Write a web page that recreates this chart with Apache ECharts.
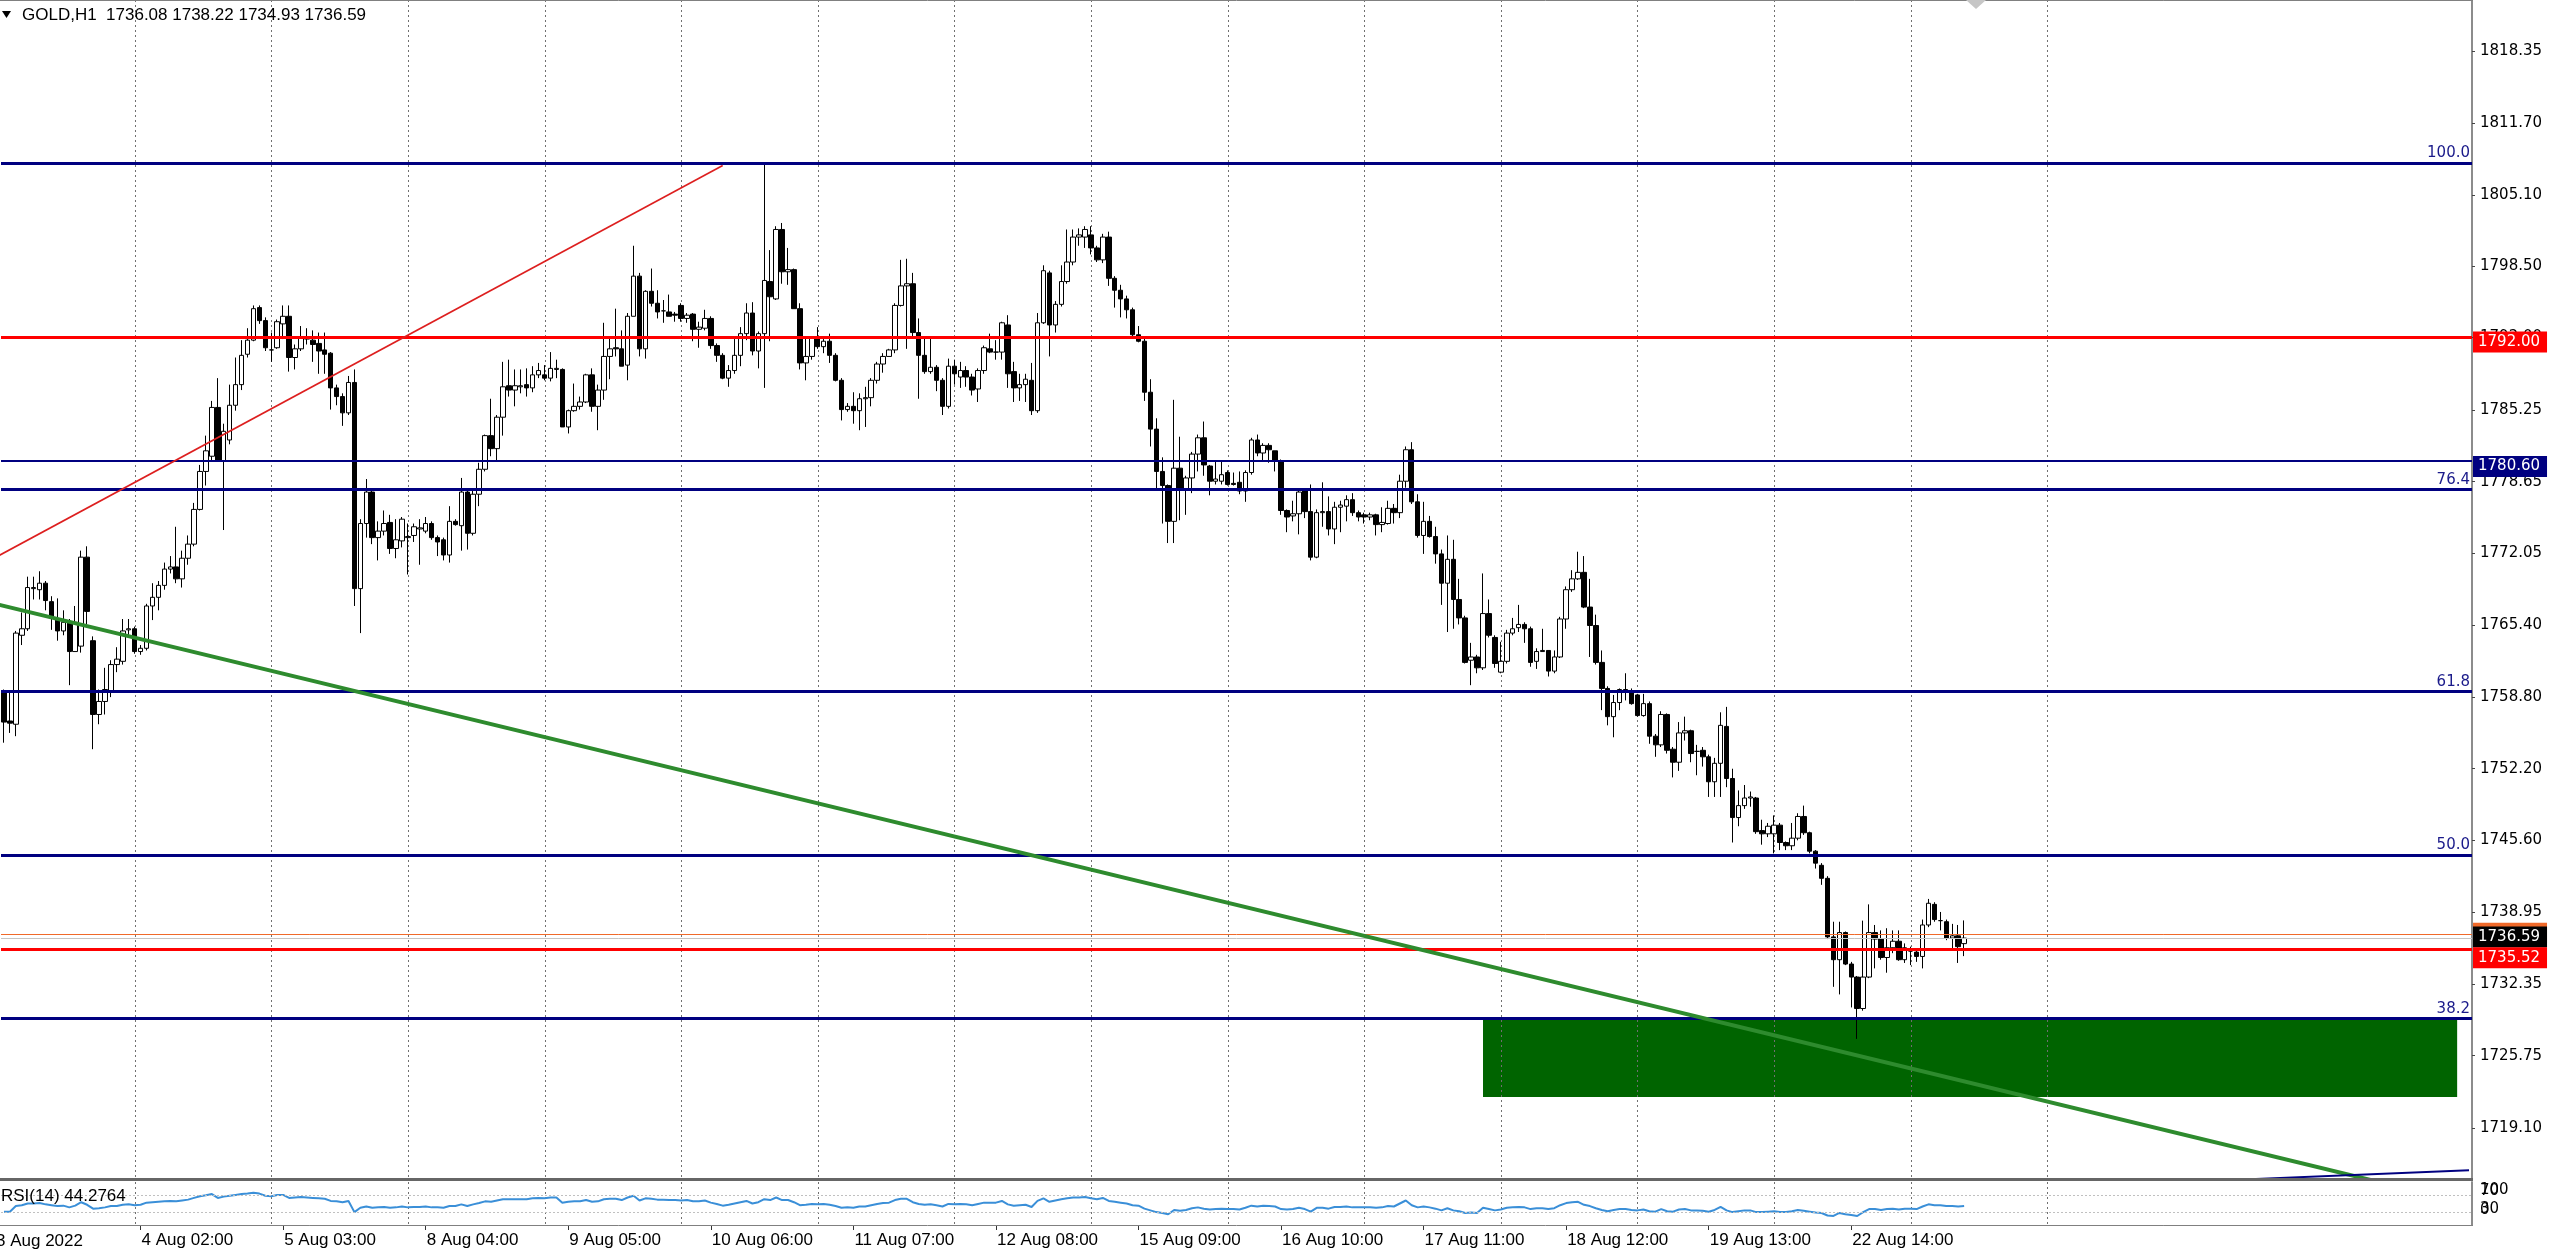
<!DOCTYPE html>
<html>
<head>
<meta charset="utf-8">
<script src="https://cdn.jsdelivr.net/npm/echarts@6.0.0/dist/echarts.min.js"></script>
<style>
html,body{margin:0;padding:0;background:#fff;overflow:hidden;}
#c{width:2560px;height:1255px;}
</style>
</head>
<body>
<div id="c"></div>
<script>
// ---------------- DATA (GOLD, H1) ----------------
const opens = [
1759.3,1756.6,1756.3,1764.5,1765.1,1768.8,1768.7,1769.3,1767.6,1766.0,
1764.9,1765.7,1763.0,1763.5,1771.7,1764.0,1757.2,1758.4,1759.3,1761.8,
1762.1,1765.0,1765.1,1763.0,1763.3,1767.2,1768.0,1769.1,1770.6,1770.8,
1769.7,1771.6,1772.9,1776.1,1779.6,1781.0,1785.5,1780.6,1782.5,1785.7,
1787.6,1790.4,1791.7,1794.7,1793.5,1790.8,1791.0,1793.2,1793.9,1790.1,
1790.9,1791.8,1791.7,1791.4,1790.8,1790.5,1787.3,1786.5,1785.0,1787.8,
1768.8,1774.8,1777.7,1773.5,1774.1,1774.9,1772.5,1773.2,1773.5,1773.7,
1774.3,1774.1,1774.8,1773.5,1773.3,1771.9,1775.0,1774.6,1777.7,1773.9,
1777.5,1779.8,1782.9,1781.7,1784.6,1787.5,1787.1,1787.4,1787.6,1787.3,
1788.5,1788.5,1788.2,1789.0,1789.0,1783.7,1785.2,1785.6,1786.0,1788.5,
1785.6,1787.1,1790.2,1791.0,1790.9,1789.4,1793.9,1797.6,1790.9,1796.2,
1795.1,1794.4,1794.3,1794.1,1794.9,1793.7,1794.1,1792.7,1792.8,1793.7,
1791.2,1790.3,1788.2,1788.9,1790.3,1792.3,1794.2,1790.7,1792.3,1797.1,
1795.5,1801.9,1798.0,1798.2,1794.6,1789.6,1790.2,1791.9,1791.1,1791.6,
1790.3,1788.0,1785.3,1785.6,1785.2,1786.3,1786.4,1788.0,1789.5,1790.2,
1790.8,1794.9,1796.7,1796.9,1792.4,1790.3,1788.8,1789.2,1788.0,1785.6,
1789.3,1788.3,1788.9,1788.3,1787.2,1788.9,1790.9,1790.6,1790.6,1793.1,
1788.8,1787.3,1787.6,1788.0,1785.2,1793.3,1797.9,1793.1,1795.0,1797.1,
1798.9,1801.2,1801.2,1801.4,1800.2,1799.1,1801.2,1797.4,1796.3,1795.5,
1794.5,1792.2,1791.6,1786.9,1783.5,1779.6,1778.3,1775.0,1779.9,1777.9,
1779.0,1781.2,1782.7,1780.1,1778.7,1778.7,1779.5,1778.5,1778.6,1777.8,
1779.5,1782.5,1781.3,1782.0,1781.5,1780.6,1776.0,1775.5,1775.7,1777.8,
1775.9,1771.7,1775.8,1775.9,1774.3,1776.3,1776.4,1777.0,1775.8,1775.6,
1775.4,1775.6,1774.7,1774.8,1776.2,1775.8,1778.7,1781.6,1776.8,1773.7,
1775.0,1773.6,1772.0,1769.3,1771.5,1767.8,1766.1,1762.2,1762.5,1761.5,
1766.5,1764.3,1761.1,1762.1,1764.7,1765.2,1765.5,1765.1,1762.1,1763.0,
1763.1,1761.2,1762.5,1766.0,1768.7,1769.7,1770.3,1767.1,1765.4,1762.0,
1759.6,1757.0,1758.3,1759.5,1759.4,1759.0,1757.1,1758.2,1755.2,1754.4,
1757.2,1754.0,1752.8,1755.5,1755.7,1753.8,1753.9,1753.3,1751.0,1752.7,
1756.1,1751.3,1747.7,1748.8,1749.5,1749.5,1746.5,1746.2,1746.2,1747.0,
1745.4,1745.1,1745.8,1747.8,1746.3,1744.6,1743.3,1742.1,1736.7,1734.6,
1737.1,1734.2,1733.0,1730.1,1733.0,1737.1,1736.5,1734.8,1735.7,1736.3,
1734.6,1735.4,1735.3,1734.9,1737.8,1739.7,1738.2,1738.1,1736.6,1736.8,
1736.08];
const highs = [
1759.5,1759.2,1764.9,1766.6,1769.9,1769.9,1770.4,1769.5,1768.1,1767.9,
1766.8,1766.0,1767.2,1772.3,1772.7,1764.4,1759.5,1761.5,1762.2,1763.4,
1766.0,1766.0,1765.3,1763.6,1767.4,1769.3,1769.5,1771.2,1771.8,1774.5,
1772.3,1773.7,1776.7,1780.2,1782.9,1786.1,1788.2,1784.0,1787.6,1790.1,
1791.7,1792.8,1794.9,1794.9,1793.8,1792.4,1793.6,1794.9,1794.9,1791.3,
1793.0,1792.8,1792.6,1792.4,1792.4,1790.6,1787.6,1786.8,1788.4,1789.0,
1775.2,1778.9,1777.9,1775.0,1776.0,1775.6,1775.2,1775.4,1774.8,1774.8,
1775.2,1775.4,1775.0,1773.7,1773.5,1776.4,1775.2,1779.0,1777.9,1777.9,
1780.4,1783.0,1786.3,1784.8,1789.7,1789.9,1789.0,1789.0,1789.1,1789.3,
1789.6,1789.4,1790.6,1789.9,1789.1,1785.3,1787.7,1786.5,1788.6,1789.1,
1787.6,1793.3,1792.0,1794.6,1792.6,1794.2,1800.4,1797.9,1796.3,1798.3,
1796.3,1795.4,1795.9,1794.3,1795.1,1794.2,1794.2,1793.4,1794.5,1793.9,
1791.4,1790.5,1789.4,1791.8,1792.9,1795.1,1795.2,1792.5,1808.0,1800.0,
1802.2,1802.5,1800.2,1798.3,1795.1,1792.0,1792.0,1792.9,1791.8,1792.3,
1790.5,1788.2,1785.9,1786.9,1786.8,1787.4,1788.2,1789.7,1790.5,1790.9,
1795.1,1799.1,1799.2,1797.9,1793.7,1792.0,1792.0,1789.4,1788.2,1790.0,
1789.9,1789.7,1789.3,1788.6,1789.1,1791.2,1792.3,1791.7,1793.4,1794.0,
1789.7,1788.6,1788.6,1789.6,1794.2,1798.6,1798.1,1795.3,1798.6,1801.9,
1801.9,1802.0,1802.2,1802.2,1800.4,1801.5,1801.7,1797.6,1796.8,1795.8,
1794.7,1793.0,1791.9,1788.1,1784.5,1780.9,1778.4,1786.2,1782.8,1779.2,
1781.4,1783.0,1784.2,1780.2,1780.6,1780.6,1779.7,1779.5,1779.6,1779.7,
1782.7,1783.0,1782.2,1782.2,1781.5,1780.7,1776.1,1776.9,1777.9,1777.9,
1778.4,1776.1,1778.6,1777.3,1776.8,1776.9,1777.4,1777.6,1776.0,1775.8,
1775.8,1775.7,1776.3,1776.9,1776.6,1779.3,1781.9,1782.3,1777.5,1776.8,
1775.5,1774.5,1772.4,1773.7,1773.3,1769.7,1766.3,1763.8,1762.7,1770.2,
1767.8,1764.5,1763.9,1765.0,1766.1,1767.3,1765.7,1765.3,1763.3,1765.1,
1763.1,1763.1,1766.2,1769.0,1770.5,1772.2,1771.8,1769.7,1766.4,1763.1,
1759.8,1759.0,1759.6,1761.0,1759.6,1759.1,1759.1,1758.4,1755.4,1757.5,
1757.3,1754.2,1756.5,1757.0,1755.8,1754.4,1754.2,1753.5,1753.2,1757.4,
1757.9,1752.2,1750.2,1750.7,1750.1,1749.6,1747.5,1747.2,1747.9,1747.2,
1745.5,1747.2,1748.1,1748.8,1746.4,1744.7,1743.5,1742.3,1738.1,1738.1,
1737.2,1734.4,1733.1,1738.2,1739.7,1737.8,1737.3,1737.5,1737.3,1737.3,
1736.1,1735.8,1735.6,1738.3,1740.2,1739.9,1739.0,1738.3,1737.9,1737.8,
1738.22];
const lows = [
1754.6,1755.5,1755.2,1763.6,1764.9,1767.8,1767.8,1766.8,1765.0,1764.0,
1764.5,1759.9,1763.0,1762.9,1765.5,1754.0,1756.3,1757.2,1758.8,1761.1,
1761.8,1764.3,1762.8,1762.7,1763.1,1765.9,1766.8,1768.7,1770.2,1769.3,
1768.9,1771.0,1772.7,1776.0,1778.3,1780.5,1780.5,1774.2,1782.1,1785.2,
1787.1,1790.1,1791.6,1793.2,1790.7,1789.7,1790.9,1791.8,1788.8,1789.0,
1790.7,1791.3,1789.7,1788.6,1788.6,1785.3,1785.7,1783.8,1784.8,1767.2,
1764.7,1773.5,1772.9,1771.4,1773.7,1772.0,1771.6,1772.6,1770.1,1773.1,
1771.0,1773.9,1773.3,1771.8,1771.4,1771.2,1774.6,1772.3,1772.4,1773.7,
1776.4,1779.6,1781.0,1780.6,1782.9,1786.5,1785.6,1786.8,1786.5,1786.9,
1788.2,1788.0,1787.9,1788.2,1783.7,1783.1,1785.1,1785.3,1785.9,1785.1,
1783.4,1786.2,1788.1,1790.2,1789.3,1788.0,1793.9,1790.2,1790.0,1794.8,
1793.7,1793.3,1793.9,1793.4,1793.4,1793.3,1791.6,1791.0,1792.6,1790.9,
1789.7,1788.1,1787.4,1788.6,1789.3,1791.7,1790.3,1789.1,1787.3,1791.6,
1795.4,1796.9,1796.8,1794.6,1789.0,1788.0,1789.9,1790.9,1790.5,1789.6,
1787.9,1784.3,1785.1,1784.0,1783.4,1783.7,1785.6,1787.7,1788.7,1790.2,
1790.5,1794.8,1790.9,1792.0,1786.3,1788.6,1788.6,1787.0,1784.8,1785.4,
1787.6,1787.3,1787.4,1786.6,1786.0,1788.6,1790.5,1789.9,1789.9,1787.3,
1786.0,1786.1,1786.0,1784.8,1785.0,1793.2,1790.2,1792.4,1794.8,1796.9,
1798.6,1800.4,1800.2,1799.6,1798.9,1798.8,1796.7,1794.7,1793.8,1793.7,
1792.0,1791.5,1786.1,1781.9,1777.8,1774.8,1773.0,1773.0,1775.1,1775.6,
1777.6,1779.6,1779.2,1777.4,1778.4,1778.4,1778.3,1778.3,1777.5,1776.8,
1779.3,1781.0,1780.6,1780.4,1779.6,1775.6,1774.0,1775.0,1773.8,1775.3,
1771.4,1771.6,1774.5,1773.7,1772.9,1774.0,1775.0,1775.5,1775.0,1774.8,
1775.1,1773.7,1774.0,1774.7,1774.8,1775.3,1778.1,1776.6,1773.5,1772.0,
1773.5,1771.1,1767.3,1764.8,1765.1,1765.5,1761.9,1759.9,1761.0,1761.3,
1764.3,1761.5,1761.0,1761.9,1764.5,1764.8,1763.8,1761.6,1761.4,1763.0,
1760.7,1761.0,1762.4,1765.1,1768.5,1769.6,1767.0,1762.5,1761.8,1757.6,
1756.2,1755.1,1757.6,1758.5,1758.1,1757.0,1757.0,1754.5,1753.3,1754.2,
1753.6,1751.4,1752.0,1754.8,1752.8,1751.6,1752.4,1749.6,1749.6,1749.6,
1750.5,1745.4,1746.9,1748.5,1748.7,1746.2,1745.2,1745.9,1744.4,1744.7,
1744.7,1744.7,1745.6,1746.1,1744.4,1743.0,1741.5,1736.5,1732.1,1731.4,
1734.1,1730.2,1727.3,1729.9,1732.9,1733.8,1734.6,1733.4,1735.2,1734.5,
1734.3,1734.1,1734.4,1733.8,1737.6,1738.1,1737.3,1736.4,1735.5,1734.3,
1734.93];
const closes = [
1756.5,1756.4,1764.7,1765.1,1768.9,1768.9,1769.3,1767.7,1766.1,1764.9,
1765.7,1763.0,1765.7,1771.7,1766.7,1757.2,1758.4,1759.5,1761.8,1762.3,
1764.9,1765.1,1763.0,1763.3,1767.2,1768.0,1769.1,1770.6,1770.8,1769.7,
1771.6,1772.9,1776.1,1779.6,1781.5,1785.5,1780.6,1783.3,1785.7,1787.6,
1790.3,1791.7,1794.6,1793.5,1791.0,1790.8,1793.4,1793.9,1790.1,1790.9,
1792.0,1791.9,1791.3,1790.7,1790.4,1787.3,1786.5,1785.0,1787.8,1768.8,
1774.8,1777.7,1773.5,1774.1,1774.8,1772.5,1773.3,1775.2,1773.6,1774.5,
1774.4,1774.8,1773.5,1773.1,1771.9,1775.0,1774.7,1777.7,1773.9,1777.5,
1779.8,1782.9,1781.7,1784.6,1787.4,1787.1,1787.5,1787.5,1787.3,1788.5,
1788.9,1788.2,1789.1,1789.1,1783.7,1785.2,1785.6,1786.0,1788.5,1785.6,
1787.1,1790.2,1790.9,1790.9,1789.3,1793.9,1797.6,1790.9,1796.2,1795.1,
1794.3,1794.4,1793.9,1794.0,1793.7,1794.0,1792.7,1792.9,1793.7,1791.2,
1790.3,1788.2,1788.9,1790.3,1792.3,1794.2,1790.7,1792.3,1797.2,1795.7,
1801.9,1798.0,1798.2,1794.6,1789.6,1790.2,1791.9,1791.1,1791.6,1790.3,
1788.0,1785.3,1785.6,1785.2,1786.3,1786.4,1788.0,1789.5,1790.2,1790.8,
1794.9,1796.7,1796.9,1792.4,1790.3,1788.8,1789.2,1788.0,1785.6,1789.3,
1788.6,1788.9,1788.3,1787.1,1788.9,1791.0,1790.6,1790.6,1793.3,1788.6,
1787.3,1787.6,1788.1,1785.2,1793.3,1798.1,1793.1,1795.0,1797.1,1798.9,
1801.2,1801.4,1801.9,1800.2,1799.1,1801.2,1797.4,1796.3,1795.5,1794.5,
1792.2,1791.6,1786.9,1783.5,1779.6,1778.3,1775.0,1779.9,1777.9,1779.0,
1781.2,1782.7,1780.2,1778.7,1778.9,1779.3,1778.4,1778.4,1777.8,1779.5,
1782.5,1781.3,1782.0,1781.6,1780.6,1776.0,1775.4,1775.7,1777.7,1775.9,
1771.7,1775.8,1775.9,1774.3,1776.3,1776.5,1777.0,1775.8,1775.4,1775.4,
1775.6,1774.7,1774.9,1776.2,1775.8,1778.7,1781.6,1776.8,1773.7,1775.0,
1773.6,1772.0,1769.3,1771.5,1767.8,1766.1,1762.0,1762.5,1761.5,1766.5,
1764.5,1761.9,1762.1,1764.7,1765.1,1765.5,1765.1,1762.0,1763.0,1763.1,
1761.2,1762.5,1766.0,1768.7,1769.7,1770.3,1767.1,1765.4,1762.0,1759.6,
1757.0,1758.3,1759.5,1759.4,1758.2,1757.1,1758.2,1755.2,1754.4,1757.2,
1753.9,1752.8,1755.5,1755.7,1753.6,1753.8,1753.3,1751.0,1752.7,1756.2,
1751.3,1747.7,1748.8,1749.5,1749.6,1746.4,1746.2,1746.9,1747.0,1745.4,
1745.1,1745.8,1747.8,1746.3,1744.6,1743.5,1742.1,1736.7,1734.6,1737.1,
1734.2,1733.0,1730.1,1733.0,1737.1,1736.5,1734.8,1735.7,1736.3,1734.6,
1735.7,1735.4,1734.9,1737.8,1739.8,1738.3,1738.2,1736.6,1736.8,1735.8,
1736.59];
const rsi14 = [
31,31,44,46,50,50,51,48,46,44, 45,41,45,53,47,38,39,41,44,44,
47,48,46,47,52,53,54,55,56,55, 57,59,63,67,69,72,63,66,68,70,
72,73,75,73,68,67,70,70,63,64, 65,64,63,62,61,56,55,53,56,30,
40,43,40,41,42,40,41,43,41,42, 42,43,41,41,40,44,44,48,44,48,
51,55,54,57,60,60,60,60,60,62, 63,62,64,64,52,54,55,55,58,54,
55,60,61,61,58,64,68,57,62,61, 59,59,58,58,57,58,55,55,57,52,
49,45,47,50,53,56,50,53,60,58, 64,58,58,53,46,47,49,48,49,47,
44,40,41,40,43,43,46,49,51,52, 58,61,61,53,49,47,48,46,43,49,
48,49,48,46,49,52,52,52,56,48, 45,46,47,42,56,62,54,57,60,62,
64,64,65,62,60,63,56,54,52,50, 46,45,38,34,30,28,25,35,33,35,
39,41,38,36,37,38,37,37,36,40, 45,43,45,44,43,37,36,37,40,37,
31,40,40,38,42,42,43,41,41,41, 41,40,41,44,43,50,57,46,41,43,
41,38,34,39,34,32,28,29,28,40, 37,34,36,40,41,42,41,37,39,39,
37,39,46,51,53,54,47,44,39,35, 32,35,37,37,35,34,36,32,31,37,
32,31,36,37,34,34,33,31,35,42, 34,30,32,34,34,30,30,31,32,30,
30,32,35,33,31,29,28,22,21,28, 25,23,21,30,37,37,35,37,38,36,
38,38,37,43,48,46,46,44,44,43, 44.2764];

const priceTicks = [1818.35,1811.70,1805.10,1798.50,1792.00,1785.25,1778.65,1772.05,1765.40,1758.80,1752.20,1745.60,1738.95,1732.35,1725.75,1719.10];
const timeLabels = ['4 Aug 02:00','5 Aug 03:00','8 Aug 04:00','9 Aug 05:00','10 Aug 06:00','11 Aug 07:00','12 Aug 08:00','15 Aug 09:00','16 Aug 10:00','17 Aug 11:00','18 Aug 12:00','19 Aug 13:00','22 Aug 14:00'];
const timeLabelBars = [23,47,71,95,119,143,167,191,215,239,263,287,311];
const gridBars = [22,45,68,91,114,137,160,183,206,229,252,275,298,321,344];
const fibNames = ['100.0','76.4','61.8','50.0','38.2'];
const fibPrices = [1808.03,1777.93,1759.30,1744.25,1729.20];
const levelPrices = [1792.00,1780.60,1735.52];
const bidPrice = 1736.59, askPrice = 1736.95;
const zoneBars = [249,413];
const zonePrices = [1729.20,1721.95];
const redTrendBars = [-1,121],   redTrendPrices = [1771.8,1807.8];
const greenTrendBars = [-1,415], greenTrendPrices = [1767.33,1712.1];
const navyTrendBars = [375,415], navyTrendPrices = [1714.3,1715.2];

// ---------------- CHART ----------------
const N = 416;
const cats = Array.from({length:N}, (_, i) => 'b' + i);
const labelMap = {};
timeLabelBars.forEach((b, k) => { labelMap['b' + b] = timeLabels[k]; });
const labelSet = new Set(timeLabelBars);
const candles = opens.map((o, i) => [o, closes[i], lows[i], highs[i]]);

const L = 1, W = 2471;
const MAIN_TOP = 0, MAIN_H = 1178;
const RSI_TOP = 1182, RSI_H = 43;
const NAVY = '#000080', RED = '#ff0000', ASK = '#f06a2a';
const PF = 'DejaVu Sans';
const TF = 'Liberation Sans';

function gridLineRender(params, api) {
  const b = gridBars[params.dataIndex];
  const cs = params.coordSys;
  const x = Math.round(api.coord([b, api.value(1)])[0]) + 0.5;
  return {type:'line', shape:{x1:x, y1:cs.y, x2:x, y2:cs.y + cs.height},
          style:{stroke:'#707070', lineWidth:1, lineDash:[2,3]}};
}

const boxLabel = (txt, bg, dy, fg) => ({
  show:true, position:'end', formatter:txt, distance:1, offset:[0, dy],
  color:fg || '#fff', backgroundColor:bg, padding:[2,7,2,5],
  fontFamily:PF, fontSize:15, lineHeight:17
});
const fibLabel = (txt) => ({
  show:true, position:'insideEndTop', formatter:txt, distance:2,
  color:'#1a1a8a', fontFamily:PF, fontSize:15
});

const markLines = [];
fibPrices.forEach((p, k) => markLines.push({yAxis:p, lineStyle:{color:NAVY, width:3, type:'solid'}, label:fibLabel(fibNames[k])}));
markLines.push({yAxis:levelPrices[0], lineStyle:{color:RED, width:3, type:'solid'}, label:boxLabel(levelPrices[0].toFixed(2), RED, 5)});
markLines.push({yAxis:levelPrices[1], lineStyle:{color:NAVY, width:2, type:'solid'}, label:boxLabel(levelPrices[1].toFixed(2), NAVY, 6)});
markLines.push({yAxis:askPrice, lineStyle:{color:ASK, width:1, type:'solid'}, label:boxLabel(askPrice.toFixed(2), ASK, -1, ASK)});
markLines.push({yAxis:bidPrice, lineStyle:{color:'#c4c4c4', width:1, type:'solid'}, label:boxLabel(bidPrice.toFixed(2), '#000', -1)});
markLines.push({yAxis:levelPrices[2], lineStyle:{color:RED, width:3, type:'solid'}, label:boxLabel(levelPrices[2].toFixed(2), RED, 8)});

const chart = echarts.init(document.getElementById('c'), null, {renderer:'canvas'});
chart.setOption({
  animation:false,
  backgroundColor:'#ffffff',
  grid:[
    {left:L, top:MAIN_TOP, width:W, height:MAIN_H, show:false},
    {left:L, top:RSI_TOP, width:W, height:RSI_H, show:false}
  ],
  xAxis:[
    {type:'category', gridIndex:0, data:cats, boundaryGap:true,
     axisLine:{show:false}, axisTick:{show:false}, axisLabel:{show:false}, splitLine:{show:false}},
    {type:'category', gridIndex:1, data:cats, boundaryGap:true,
     axisLine:{show:false},
     axisTick:{show:true, alignWithLabel:true, interval:(i) => labelSet.has(i), length:5, lineStyle:{color:'#333'}},
     axisLabel:{show:true, interval:(i) => labelSet.has(i), formatter:(v) => labelMap[v] || '',
                align:'left', margin:7, padding:[0,0,0,1], fontFamily:TF, fontSize:17, color:'#000'},
     splitLine:{show:false}}
  ],
  yAxis:[
    {type:'value', gridIndex:0, position:'right', min:1714.48, max:1823.05, scale:true,
     axisLine:{show:true, lineStyle:{color:'#8c8c8c', width:2}},
     axisTick:{show:true, customValues:priceTicks, length:3, lineStyle:{color:'#444'}},
     axisLabel:{show:true, customValues:priceTicks, formatter:(v) => v.toFixed(2), margin:8,
                fontFamily:PF, fontSize:15, color:'#000'},
     splitLine:{show:false}},
    {type:'value', gridIndex:1, position:'right', min:0, max:100,
     axisLine:{show:true, lineStyle:{color:'#8c8c8c', width:2}},
     axisTick:{show:false}, axisLabel:{show:false}, splitLine:{show:false}}
  ],
  series:[
    {type:'custom', name:'zone', xAxisIndex:0, yAxisIndex:0, z:1, silent:true, data:[[0,1760]],
     renderItem:(params, api) => {
       const p1 = api.coord([zoneBars[0], zonePrices[0]]);
       const p2 = api.coord([zoneBars[1], zonePrices[1]]);
       return {type:'rect', shape:{x:p1[0], y:p1[1], width:p2[0]-p1[0], height:p2[1]-p1[1]}, style:{fill:'#006400'}};
     }},
    {type:'custom', name:'vgrid', xAxisIndex:0, yAxisIndex:0, z:1, silent:true,
     data:gridBars.map(b => [b, 1760]), renderItem:gridLineRender},
    {type:'custom', name:'vgrid2', xAxisIndex:1, yAxisIndex:1, z:1, silent:true,
     data:gridBars.map(b => [b, 50]), renderItem:gridLineRender},
    {type:'candlestick', name:'GOLD,H1', xAxisIndex:0, yAxisIndex:0, z:3, barWidth:5,
     data:candles,
     itemStyle:{color:'#ffffff', color0:'#000000', borderColor:'#000000', borderColor0:'#000000', borderWidth:1},
     markLine:{silent:true, symbol:['none','none'], animation:false, precision:2, data:markLines}},
    {type:'line', name:'redTrend', xAxisIndex:0, yAxisIndex:0, z:6, silent:true, showSymbol:false,
     data:redTrendBars.map((b, k) => [b, redTrendPrices[k]]), lineStyle:{color:'#dd1f1f', width:1.6}},
    {type:'line', name:'greenTrend', xAxisIndex:0, yAxisIndex:0, z:6, silent:true, showSymbol:false,
     data:greenTrendBars.map((b, k) => [b, greenTrendPrices[k]]), lineStyle:{color:'#2e8b2e', width:4}},
    {type:'line', name:'navyTrend', xAxisIndex:0, yAxisIndex:0, z:6, silent:true, showSymbol:false,
     data:navyTrendBars.map((b, k) => [b, navyTrendPrices[k]]), lineStyle:{color:NAVY, width:2}},
    {type:'line', name:'RSI(14)', xAxisIndex:1, yAxisIndex:1, z:4, silent:true, showSymbol:false,
     data:rsi14, lineStyle:{color:'#3a8fd8', width:2},
     markLine:{silent:true, symbol:['none','none'], label:{show:false},
               lineStyle:{color:'#c0c0c0', width:1, type:[2,2]}, data:[{yAxis:70},{yAxis:30}]}}
  ],
  graphic:[
    {type:'line', z:50, shape:{x1:0, y1:0.5, x2:2473, y2:0.5}, style:{stroke:'#808080', lineWidth:1}},
    {type:'rect', z:50, shape:{x:0, y:1178, width:2473, height:3}, style:{fill:'#666666'}},
    {type:'line', z:50, shape:{x1:0, y1:1225.5, x2:2473, y2:1225.5}, style:{stroke:'#808080', lineWidth:1}},
    {type:'polygon', z:50, shape:{points:[[2,11],[11,11],[6.5,18]]}, style:{fill:'#000'}},
    {type:'text', z:50, x:22, y:15, style:{text:'GOLD,H1  1736.08 1738.22 1734.93 1736.59', font:'17px "Liberation Sans"', fill:'#000', verticalAlign:'middle'}},
    {type:'polygon', z:50, shape:{points:[[1966,0],[1986,0],[1976,9]]}, style:{fill:'#c6c6c6'}},
    {type:'text', z:50, x:1, y:1196, style:{text:'RSI(14) 44.2764', font:'17px "Liberation Sans"', fill:'#000', verticalAlign:'middle'}},
    {type:'text', z:50, x:-4, y:1241, style:{text:'3 Aug 2022', font:'17px "Liberation Sans"', fill:'#000', verticalAlign:'middle'}},
    {type:'text', z:50, x:2480, y:1190, style:{text:'100', font:'15px "DejaVu Sans"', fill:'#000', verticalAlign:'middle'}},
    {type:'text', z:50, x:2480, y:1191, style:{text:'70', font:'15px "DejaVu Sans"', fill:'#000', verticalAlign:'middle'}},
    {type:'text', z:50, x:2480, y:1209, style:{text:'30', font:'15px "DejaVu Sans"', fill:'#000', verticalAlign:'middle'}},
    {type:'text', z:50, x:2480, y:1210, style:{text:'0', font:'15px "DejaVu Sans"', fill:'#000', verticalAlign:'middle'}}
  ]
});
</script>
</body>
</html>
